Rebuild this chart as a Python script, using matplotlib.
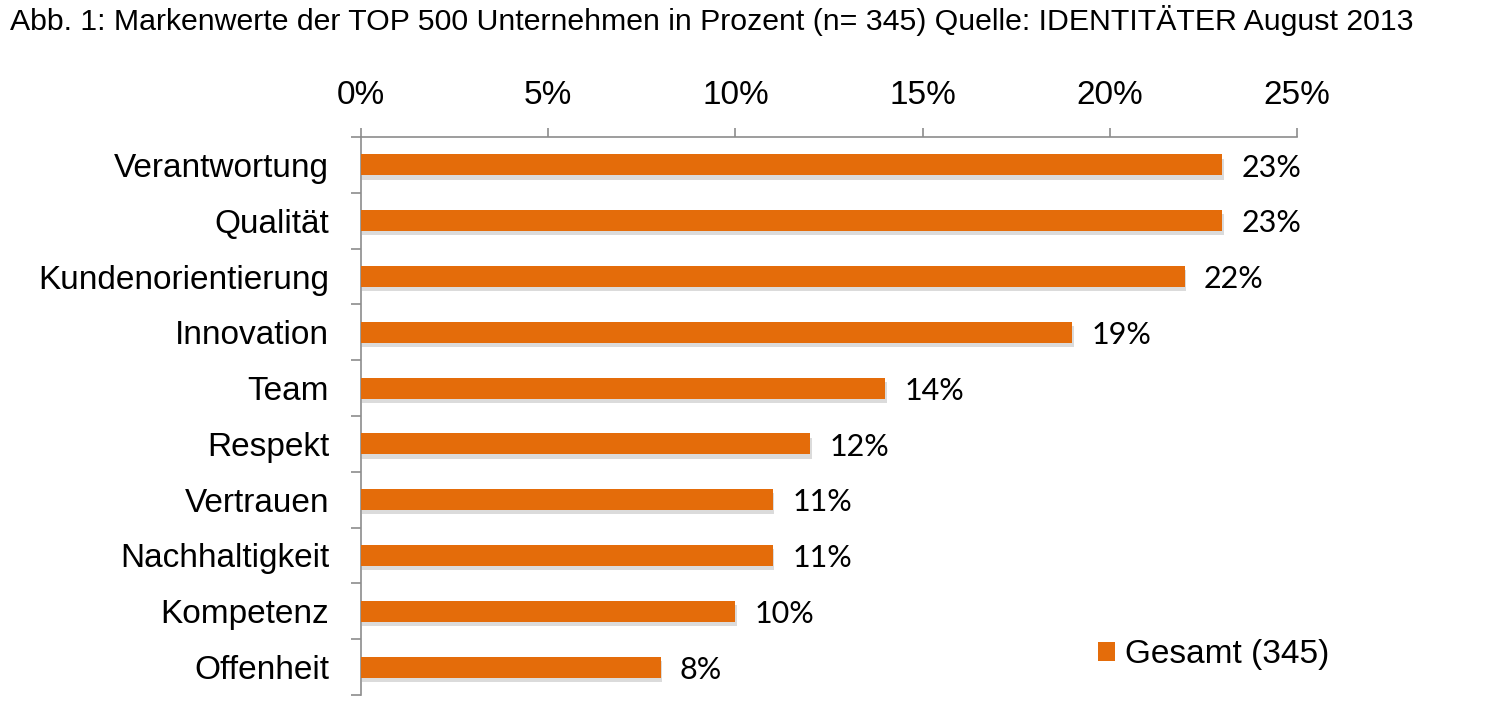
import matplotlib
matplotlib.use("Agg")
import matplotlib.pyplot as plt
import matplotlib.patheffects as pe
from matplotlib.patches import Patch
import numpy as np

# Daten aus der Abbildung
kategorien = ["Verantwortung", "Qualität", "Kundenorientierung", "Innovation", "Team",
              "Respekt", "Vertrauen", "Nachhaltigkeit", "Kompetenz", "Offenheit"]
werte = [23, 23, 22, 19, 14, 12, 11, 11, 10, 8]
x_ticks = [0, 5, 10, 15, 20, 25]
x_labels = ["0%", "5%", "10%", "15%", "20%", "25%"]
titel = "Abb. 1: Markenwerte der TOP 500 Unternehmen in Prozent (n= 345) Quelle: IDENTITÄTER August 2013"
legende = "Gesamt (345)"

orange = "#E46C0A"
grau = "#8C8C8C"

plt.rcParams['font.family'] = ['Liberation Sans', 'DejaVu Sans']

fig = plt.figure(figsize=(15, 7.09), dpi=100)
ax = fig.add_axes([361/1500, 1 - 695/709, 936/1500, (695 - 137)/709])

y = np.arange(len(kategorien))
bars = ax.barh(y, werte, height=0.375, color=orange, zorder=3)
for b in bars:
    b.set_path_effects([pe.SimplePatchShadow(offset=(1, -3), shadow_rgbFace="#888888", alpha=0.3),
                        pe.Normal()])

for i, v in enumerate(werte):
    ax.annotate(f"{v}%", xy=(v, i), xytext=(14, -2), textcoords="offset points",
                va="center", ha="left", fontsize=22, family=["Lato", "DejaVu Sans"])

ax.set_xlim(0, 25)
ax.set_ylim(len(kategorien) - 0.5, -0.5)
ax.set_xticks(x_ticks)
ax.set_xticklabels(x_labels)
ax.xaxis.tick_top()
ax.tick_params(axis="x", which="major", direction="out", length=6.5, width=1.2,
               color=grau, labelsize=24, pad=12)

ax.set_yticks(y)
ax.set_yticklabels(kategorien)
ax.set_yticks(np.arange(-0.5, len(kategorien), 1), minor=True)
ax.tick_params(axis="y", which="major", length=0, labelsize=24, pad=23)
ax.tick_params(axis="y", which="minor", direction="out", length=7, width=1.2, color=grau)

for s in ["right", "bottom"]:
    ax.spines[s].set_visible(False)
for s in ["top", "left"]:
    ax.spines[s].set_color(grau)
    ax.spines[s].set_linewidth(1.2)

fig.text(10/1500, 1 - 20/709, titel, fontsize=21.8, va="center", ha="left")

handle = Patch(facecolor=orange, edgecolor="none")
fig.legend([handle], [legende], loc="center left", bbox_to_anchor=(1098/1500, 1 - 655/709),
           bbox_transform=fig.transFigure, frameon=False, fontsize=24, borderpad=0,
           borderaxespad=0, handlelength=0.5, handleheight=0.5, handletextpad=0.3)

fig.savefig("out.png", dpi=100)
